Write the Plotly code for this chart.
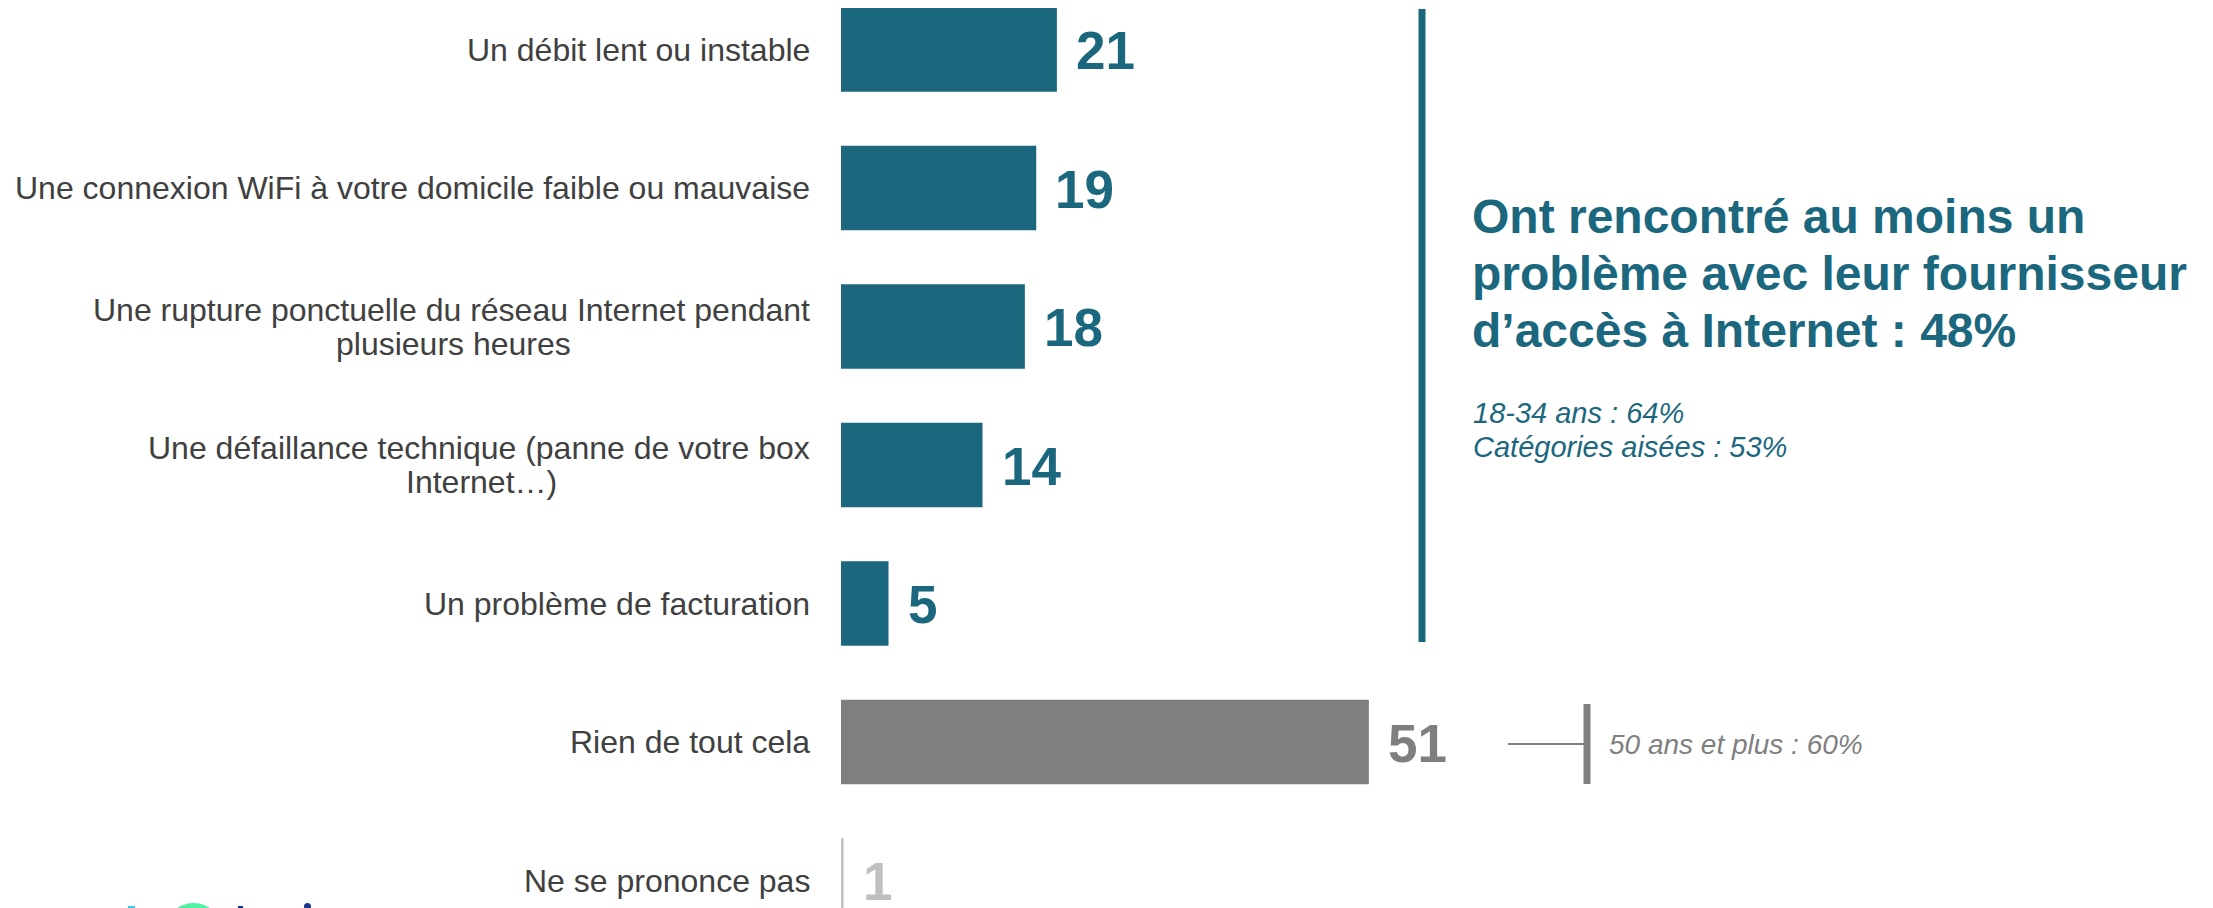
import plotly.graph_objects as go

# ---------------- data ----------------
categories = [
    "Un débit lent ou instable",
    "Une connexion WiFi à votre domicile faible ou mauvaise",
    "Une rupture ponctuelle du réseau Internet pendant plusieurs heures",
    "Une défaillance technique (panne de votre box Internet…)",
    "Un problème de facturation",
    "Rien de tout cela",
    "Ne se prononce pas",
]
label_lines = [
    ["Un débit lent ou instable"],
    ["Une connexion WiFi à votre domicile faible ou mauvaise"],
    ["Une rupture ponctuelle du réseau Internet pendant", "plusieurs heures"],
    ["Une défaillance technique (panne de votre box", "Internet…)"],
    ["Un problème de facturation"],
    ["Rien de tout cela"],
    ["Ne se prononce pas"],
]
bar_values = [20.9, 18.9, 17.8, 13.7, 4.6, 51.1, 0.25]
value_labels = ["21", "19", "18", "14", "5", "51", "1"]
groups = ["problem", "problem", "problem", "problem", "problem", "none", "nsp"]

summary_lines = [
    "Ont rencontré au moins un",
    "problème avec leur fournisseur",
    "d’accès à Internet : 48%",
]
summary_details = ["18-34 ans : 64%", "Catégories aisées : 53%"]
none_detail = "50 ans et plus : 60%"

# ---------------- style ----------------
TEAL = "#1b677e"
GRAY = "#7f7f7f"
LIGHT = "#bfbfbf"
TXT = "#404040"
FONT = "Arial, Liberation Sans, sans-serif"
color_map = {"problem": TEAL, "none": GRAY, "nsp": LIGHT}

W, H = 2213, 908
OFF = 8                     # page body margin offset (screen px)
ML = 841 - OFF              # left margin in figure px
PW = W - ML
PX_PER_UNIT = 10.33
ROW0, PITCH = 49.5 - OFF, 138.5


def px_x(p):
    """screen px -> paper x"""
    return (p - OFF - ML) / PW


def px_y(p):
    """screen px -> paper y"""
    return 1 - (p - OFF) / H


fig = go.Figure()
fig.add_trace(go.Bar(
    y=categories,
    x=bar_values,
    orientation="h",
    marker=dict(color=[color_map[g] for g in groups], line=dict(width=0)),
    width=0.61,
    hoverinfo="skip",
))

annotations = []
# category labels (left)
line_centers = {2: 453.5, 3: 481.2}
for i, lines in enumerate(label_lines):
    yc = 49.5 + PITCH * i
    if len(lines) == 1:
        annotations.append(dict(
            x=px_x(812), y=px_y(yc), xref="paper", yref="paper",
            text=lines[0], showarrow=False, xanchor="right", yanchor="middle",
            font=dict(family=FONT, size=32, color=TXT)))
    else:
        annotations.append(dict(
            x=px_x(812), y=px_y(yc - 17), xref="paper", yref="paper",
            text=lines[0], showarrow=False, xanchor="right", yanchor="middle",
            font=dict(family=FONT, size=32, color=TXT)))
        annotations.append(dict(
            x=px_x(line_centers[i]), y=px_y(yc + 17), xref="paper", yref="paper",
            text=lines[1], showarrow=False, xanchor="center", yanchor="middle",
            font=dict(family=FONT, size=32, color=TXT)))

# value labels
for i, (v, lab, g) in enumerate(zip(bar_values, value_labels, groups)):
    annotations.append(dict(
        x=v, y=categories[i], xref="x", yref="y",
        text=f"<b>{lab}</b>", showarrow=False, xanchor="left", yanchor="middle",
        xshift=17, yshift=-1,
        font=dict(family=FONT, size=53, color=color_map[g])))

# summary text on the right
for k, line in enumerate(summary_lines):
    annotations.append(dict(
        x=px_x(1470), y=px_y(216 + 57 * k), xref="paper", yref="paper",
        text=f"<b>{line}</b>", showarrow=False, xanchor="left", yanchor="middle",
        font=dict(family=FONT, size=48, color=TEAL)))
for k, line in enumerate(summary_details):
    annotations.append(dict(
        x=px_x(1471), y=px_y(413 + 34 * k), xref="paper", yref="paper",
        text=f"<i>{line}</i>", showarrow=False, xanchor="left", yanchor="middle",
        font=dict(family=FONT, size=29, color=TEAL)))

annotations.append(dict(
    x=px_x(1607), y=px_y(744), xref="paper", yref="paper",
    text=f"<i>{none_detail}</i>", showarrow=False, xanchor="left", yanchor="middle",
    font=dict(family=FONT, size=28, color=GRAY)))

shapes = [
    # teal divider
    dict(type="line", xref="paper", yref="paper",
         x0=px_x(1422), x1=px_x(1422), y0=px_y(9), y1=px_y(642),
         line=dict(color=TEAL, width=7)),
    # gray bracket
    dict(type="line", xref="paper", yref="paper",
         x0=px_x(1508), x1=px_x(1586), y0=px_y(744), y1=px_y(744),
         line=dict(color=GRAY, width=2)),
    dict(type="line", xref="paper", yref="paper",
         x0=px_x(1587), x1=px_x(1587), y0=px_y(704), y1=px_y(784),
         line=dict(color=GRAY, width=7)),
    # partial logo at the bottom-left edge
    dict(type="rect", xref="paper", yref="paper",
         x0=px_x(128), x1=px_x(135), y0=px_y(906), y1=px_y(920),
         fillcolor="#3fc6f0", line=dict(width=0)),
    dict(type="circle", xref="paper", yref="paper",
         x0=px_x(164), x1=px_x(223), y0=px_y(903), y1=px_y(963),
         fillcolor="#4df3a0", line=dict(width=0)),
    dict(type="rect", xref="paper", yref="paper",
         x0=px_x(238), x1=px_x(243), y0=px_y(906), y1=px_y(920),
         fillcolor="#14358f", line=dict(width=0)),
    dict(type="circle", xref="paper", yref="paper",
         x0=px_x(304), x1=px_x(311), y0=px_y(903), y1=px_y(910),
         fillcolor="#14358f", line=dict(width=0)),
]

y_top = -ROW0 / PITCH
y_bottom = y_top + H / PITCH

fig.update_layout(
    width=W, height=H,
    margin=dict(l=ML, r=0, t=0, b=0),
    paper_bgcolor="white", plot_bgcolor="white",
    showlegend=False,
    xaxis=dict(range=[0, PW / PX_PER_UNIT], visible=False, fixedrange=True),
    yaxis=dict(type="category", categoryorder="array", categoryarray=categories,
               range=[y_bottom, y_top], visible=False, fixedrange=True),
    annotations=annotations,
    shapes=shapes,
    font=dict(family=FONT),
)

fig.write_html("out.html", config={"displayModeBar": False})
